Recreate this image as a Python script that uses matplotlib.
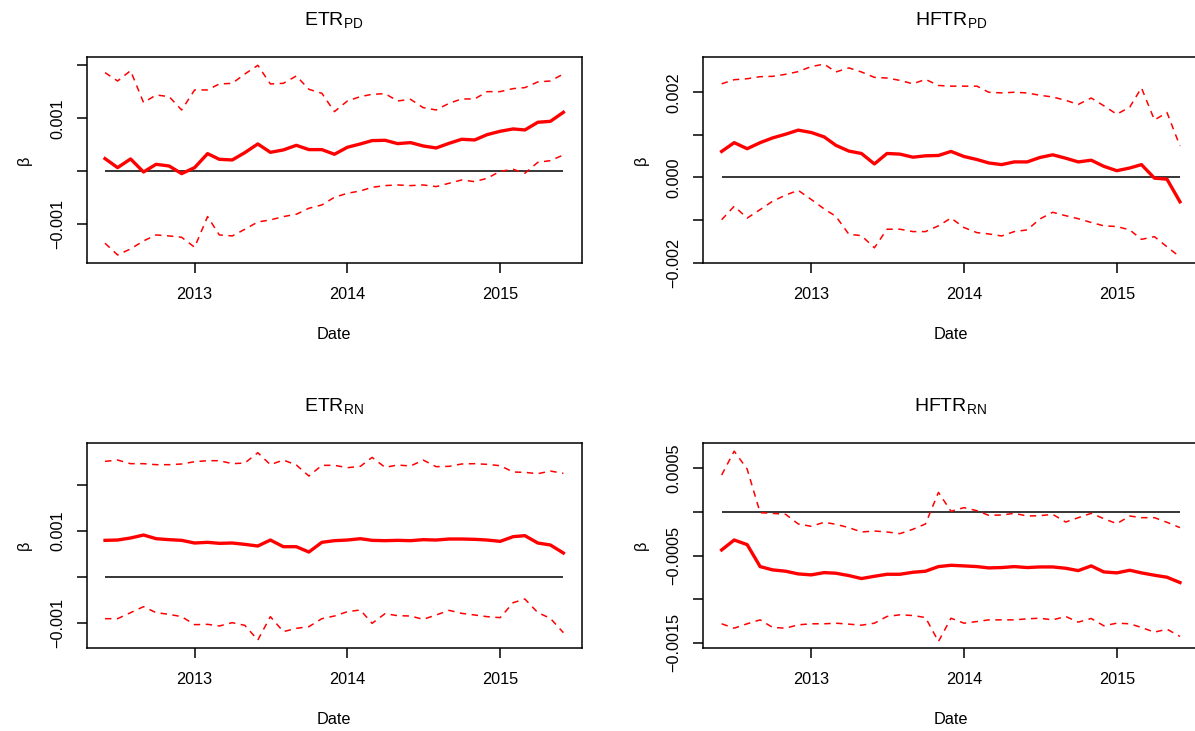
import matplotlib
matplotlib.use("Agg")
import matplotlib.pyplot as plt
import numpy as np
import pandas as pd

plt.rcParams['font.family'] = ['Liberation Sans', 'DejaVu Sans']
plt.rcParams['mathtext.fontset'] = 'custom'
plt.rcParams['mathtext.rm'] = 'Liberation Sans'
plt.rcParams['mathtext.it'] = 'Liberation Sans'

# ---------------- data ----------------
dates = pd.date_range('2012-06-01', '2015-06-01', freq='MS')

etr_pd_est = [0.239, 0.069, 0.233, -0.013, 0.132, 0.100, -0.044, 0.069, 0.333, 0.226,
              0.214, 0.352, 0.516, 0.358, 0.403, 0.490, 0.409, 0.409, 0.321, 0.453,
              0.516, 0.579, 0.585, 0.522, 0.541, 0.478, 0.440, 0.528, 0.604, 0.591,
              0.692, 0.755, 0.799, 0.780, 0.925, 0.943, 1.113]
etr_pd_up = [1.862, 1.704, 1.899, 1.296, 1.440, 1.409, 1.157, 1.535, 1.535, 1.648,
             1.660, 1.836, 2.000, 1.648, 1.660, 1.799, 1.547, 1.472, 1.126, 1.327,
             1.409, 1.453, 1.465, 1.327, 1.358, 1.201, 1.157, 1.283, 1.365, 1.365,
             1.503, 1.503, 1.560, 1.579, 1.686, 1.704, 1.836]
etr_pd_lo = [-1.358, -1.579, -1.465, -1.314, -1.201, -1.220, -1.245, -1.434, -0.855, -1.201,
             -1.220, -1.094, -0.956, -0.918, -0.855, -0.811, -0.698, -0.635, -0.491, -0.415,
             -0.371, -0.302, -0.270, -0.258, -0.270, -0.258, -0.289, -0.226, -0.164, -0.195,
             -0.132, 0.000, 0.038, -0.038, 0.170, 0.201, 0.308]

hftr_pd_est = [0.611, 0.817, 0.675, 0.817, 0.929, 1.016, 1.111, 1.056, 0.952, 0.754,
               0.619, 0.563, 0.317, 0.563, 0.548, 0.476, 0.508, 0.516, 0.611, 0.492,
               0.421, 0.341, 0.302, 0.365, 0.365, 0.468, 0.532, 0.452, 0.365, 0.405,
               0.262, 0.159, 0.222, 0.302, -0.016, -0.040, -0.571]
hftr_pd_up = [2.198, 2.294, 2.317, 2.365, 2.373, 2.421, 2.484, 2.603, 2.659, 2.476,
              2.571, 2.476, 2.349, 2.333, 2.278, 2.198, 2.302, 2.159, 2.143, 2.143,
              2.143, 2.000, 1.984, 2.000, 1.984, 1.929, 1.889, 1.810, 1.714, 1.865,
              1.683, 1.484, 1.651, 2.103, 1.349, 1.524, 0.738]
hftr_pd_lo = [-0.992, -0.675, -0.952, -0.754, -0.556, -0.413, -0.302, -0.516, -0.738, -0.913,
              -1.333, -1.365, -1.651, -1.214, -1.214, -1.270, -1.270, -1.135, -0.952, -1.175,
              -1.294, -1.325, -1.373, -1.270, -1.230, -0.976, -0.817, -0.897, -0.968, -1.056,
              -1.135, -1.151, -1.230, -1.452, -1.389, -1.627, -1.865]

etr_rn_est = [0.797, 0.804, 0.848, 0.913, 0.833, 0.812, 0.797, 0.739, 0.754, 0.732,
              0.739, 0.710, 0.674, 0.804, 0.659, 0.659, 0.543, 0.754, 0.790, 0.804,
              0.833, 0.797, 0.790, 0.797, 0.790, 0.812, 0.804, 0.826, 0.826, 0.819,
              0.804, 0.775, 0.877, 0.899, 0.739, 0.696, 0.522]
etr_rn_up = [2.514, 2.543, 2.464, 2.464, 2.442, 2.442, 2.457, 2.507, 2.529, 2.529,
             2.464, 2.478, 2.703, 2.442, 2.543, 2.435, 2.196, 2.428, 2.428, 2.377,
             2.406, 2.601, 2.384, 2.435, 2.413, 2.543, 2.399, 2.406, 2.457, 2.464,
             2.449, 2.420, 2.283, 2.275, 2.246, 2.304, 2.254]
etr_rn_lo = [-0.906, -0.906, -0.775, -0.645, -0.775, -0.812, -0.862, -1.036, -1.029, -1.065,
             -0.993, -1.051, -1.370, -0.862, -1.188, -1.116, -1.080, -0.906, -0.848, -0.754,
             -0.717, -1.007, -0.797, -0.841, -0.848, -0.920, -0.826, -0.725, -0.790, -0.826,
             -0.862, -0.884, -0.558, -0.478, -0.775, -0.899, -1.210]

hftr_rn_est = [-0.435, -0.321, -0.374, -0.626, -0.664, -0.679, -0.710, -0.721, -0.695, -0.702,
               -0.729, -0.763, -0.737, -0.714, -0.714, -0.691, -0.679, -0.626, -0.611, -0.618,
               -0.626, -0.641, -0.637, -0.626, -0.637, -0.630, -0.630, -0.645, -0.672, -0.618,
               -0.687, -0.698, -0.668, -0.698, -0.725, -0.748, -0.809]
hftr_rn_up = [0.424, 0.698, 0.492, -0.008, -0.015, -0.027, -0.137, -0.164, -0.118, -0.141,
              -0.179, -0.229, -0.218, -0.229, -0.248, -0.198, -0.137, 0.225, 0.008, 0.050,
              0.015, -0.038, -0.034, -0.015, -0.046, -0.042, -0.027, -0.115, -0.065, -0.015,
              -0.076, -0.134, -0.046, -0.065, -0.065, -0.118, -0.179]
hftr_rn_lo = [-1.282, -1.332, -1.282, -1.237, -1.324, -1.332, -1.294, -1.282, -1.282, -1.275,
              -1.286, -1.298, -1.275, -1.198, -1.179, -1.187, -1.210, -1.485, -1.218, -1.275,
              -1.256, -1.237, -1.237, -1.237, -1.225, -1.218, -1.237, -1.198, -1.263, -1.221,
              -1.305, -1.275, -1.282, -1.324, -1.378, -1.344, -1.427]

scale = 1e-3  # values above are in units of 1e-3

titles = ['ETR$_{\\mathrm{PD}}$', 'HFTR$_{\\mathrm{PD}}$', 'ETR$_{\\mathrm{RN}}$', 'HFTR$_{\\mathrm{RN}}$']
series = [(etr_pd_est, etr_pd_up, etr_pd_lo), (hftr_pd_est, hftr_pd_up, hftr_pd_lo),
          (etr_rn_est, etr_rn_up, etr_rn_lo), (hftr_rn_est, hftr_rn_up, hftr_rn_lo)]

yticks = [[-0.001, 0.0, 0.001, 0.002],
          [-0.002, -0.001, 0.0, 0.001, 0.002],
          [-0.001, 0.0, 0.001, 0.002],
          [-0.0015, -0.001, -0.0005, 0.0, 0.0005]]
ytlabels = [['\u22120.001', '', '0.001', ''],
            ['\u22120.002', '', '0.000', '', '0.002'],
            ['\u22120.001', '', '0.001', ''],
            ['\u22120.0015', '', '\u22120.0005', '', '0.0005']]
ylims = [(-0.001725, 0.002151), (-0.00200, 0.00282), (-0.00155, 0.002907), (-0.001563, 0.000788)]

year_ticks = [pd.Timestamp('2013-01-01'), pd.Timestamp('2014-01-01'), pd.Timestamp('2015-01-01')]
year_labels = ['2013', '2014', '2015']

# ---------------- layout (pixels) ----------------
W, H = 1195, 731
boxes = [(86.7, 57.3, 581.7, 262.7), (703.3, 57.3, 1198.3, 262.7),
         (86.7, 443.3, 581.7, 648.3), (703.3, 443.3, 1198.3, 648.3)]

fig = plt.figure(figsize=(W / 100, H / 100), dpi=100)

span = dates[-1] - dates[0]
xlim = (dates[0] - span * 0.04, dates[-1] + span * 0.04)

for k in range(4):
    l, t, r, b = boxes[k]
    ax = fig.add_axes([l / W, 1 - b / H, (r - l) / W, (b - t) / H])
    est, up, lo = series[k]
    est = np.array(est) * scale
    up = np.array(up) * scale
    lo = np.array(lo) * scale
    ax.plot([dates[0], dates[-1]], [0, 0], color='black', lw=1.1, solid_capstyle='butt')
    ax.plot(dates, up, color='red', lw=1.1, linestyle=(0, (4.2, 3.6)))
    ax.plot(dates, lo, color='red', lw=1.1, linestyle=(0, (4.2, 3.6)))
    ax.plot(dates, est, color='red', lw=2.4, solid_joinstyle='round')
    ax.set_xlim(xlim)
    ax.set_ylim(ylims[k])
    ax.set_xticks(year_ticks)
    ax.set_xticklabels(year_labels, fontsize=11.7)
    ax.set_yticks(yticks[k])
    ax.set_yticklabels(ytlabels[k], fontsize=11.7, rotation=90, va='center')
    ax.tick_params(direction='out', length=7.2, width=1.1, color='black')
    ax.tick_params(axis='x', pad=10)
    ax.tick_params(axis='y', pad=8.5)
    for s in ax.spines.values():
        s.set_linewidth(1.1)
    ax.set_xlabel('Date', fontsize=11.7, labelpad=18)
    ax.set_ylabel('\u03b2', fontsize=11.7, labelpad=13)
    ax.set_title(titles[k], fontsize=14, pad=23)

fig.savefig('out.png', dpi=100)
